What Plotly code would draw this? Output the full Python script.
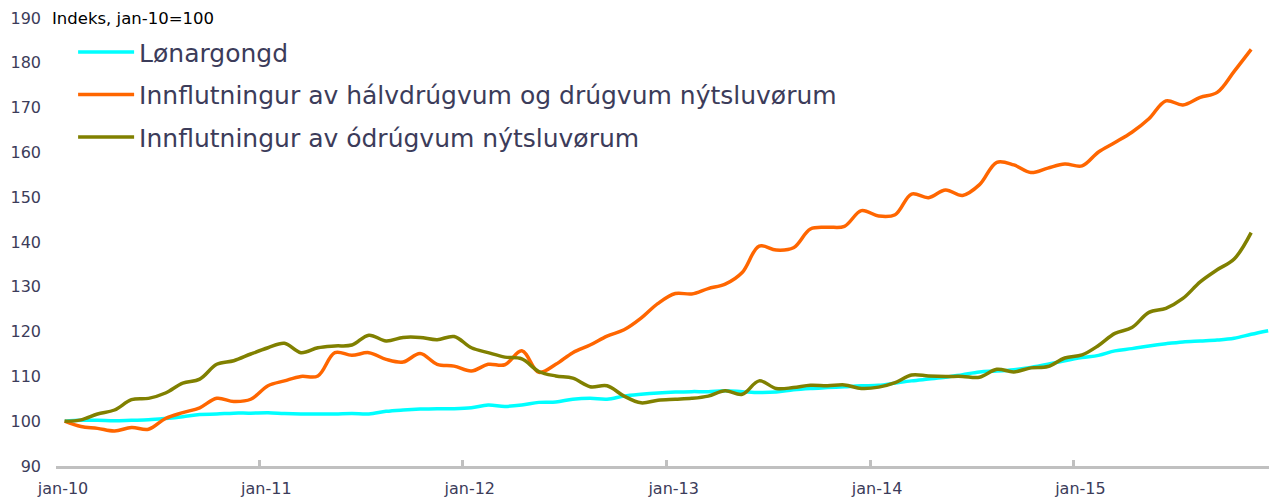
"""
Lønargongd og innflutningur, indeks jan-10=100
"""

import plotly.graph_objects as go
import pandas as pd

months = pd.date_range("2010-01-01", periods=72, freq="MS")

wages = [
    100.0, 100.2, 100.2, 100.1, 100.2, 100.3, 100.6, 101.0, 101.5, 101.6, 101.8, 101.8,
    101.9, 101.7, 101.6, 101.6, 101.6, 101.7, 101.6, 102.2, 102.5, 102.7, 102.8, 102.8,
    103.0, 103.6, 103.3, 103.6, 104.2, 104.3, 104.9, 105.1, 104.9, 105.6, 106.0, 106.3,
    106.5, 106.6, 106.6, 106.8, 106.6, 106.4, 106.5, 107.0, 107.3, 107.5, 107.7, 107.9,
    108.0, 108.5, 109.0, 109.4, 109.8, 110.4, 111.0, 111.2, 111.5, 112.0, 112.7, 113.5,
    114.2, 114.7, 115.7, 116.2, 116.8, 117.3, 117.7, 117.9, 118.1, 118.5, 119.4, 120.2,
]

durable = [
    100.0, 98.8, 98.4, 97.8, 98.6, 98.2, 100.6, 101.9, 103.0, 105.1, 104.4, 104.9,
    107.9, 109.0, 110.0, 110.1, 115.3, 114.7, 115.3, 113.8, 113.2, 115.1, 112.7, 112.3,
    111.2, 112.7, 112.6, 115.7, 110.9, 112.7, 115.3, 117.0, 119.0, 120.4, 123.0, 126.3,
    128.5, 128.4, 129.6, 130.6, 133.2, 139.1, 138.2, 138.7, 142.9, 143.3, 143.5, 147.0,
    145.8, 146.1, 150.7, 149.9, 151.6, 150.4, 152.8, 157.8, 157.2, 155.5, 156.5, 157.4,
    157.0, 160.1, 162.2, 164.5, 167.5, 171.5, 170.6, 172.3, 173.4, 178.1, 183.0,
]

nondurable = [
    100.0, 100.3, 101.6, 102.5, 104.8, 105.1, 106.3, 108.5, 109.4, 112.7, 113.5, 115.0,
    116.4, 117.4, 115.3, 116.4, 116.8, 117.0, 119.2, 117.9, 118.7, 118.7, 118.2, 118.9,
    116.4, 115.3, 114.3, 113.9, 111.1, 110.1, 109.6, 107.7, 107.9, 105.6, 104.1, 104.7,
    104.9, 105.1, 105.6, 106.8, 106.0, 109.0, 107.3, 107.5, 108.0, 107.9, 108.1, 107.3,
    107.6, 108.6, 110.3, 110.1, 110.0, 110.0, 109.8, 111.6, 111.0, 111.9, 112.2, 114.1,
    114.8, 116.9, 119.6, 120.9, 124.3, 125.2, 127.4, 131.1, 133.8, 136.2, 142.1,
]

tick_dates = ["2010-01-01", "2011-01-01", "2012-01-01",
              "2013-01-01", "2014-01-01", "2015-01-01"]
tick_labels = ["jan-10", "jan-11", "jan-12", "jan-13", "jan-14", "jan-15"]

y_ticks = list(range(90, 191, 10))

series = [
    ("Lønargongd", wages, "#00ffff"),
    ("Innflutningur av hálvdrúgvum og drúgvum nýtsluvørum", durable, "#ff6600"),
    ("Innflutningur av ódrúgvum nýtsluvørum", nondurable, "#808000"),
]

text_color = "#3c3c5a"

fig = go.Figure()

for name, values, color in series:
    fig.add_trace(go.Scatter(
        x=months[:len(values)],
        y=values,
        name=name,
        legendgroup=name,
        mode="lines",
        xperiod="M1",
        xperiodalignment="middle",
        line=dict(color=color, width=3.5, shape="spline", smoothing=1.0),
    ))

fig.update_layout(
    width=1269,
    height=498,
    margin=dict(l=56, r=0, t=18, b=32),
    paper_bgcolor="white",
    plot_bgcolor="white",
    font=dict(family="DejaVu Sans, Verdana, sans-serif", color=text_color),
    showlegend=True,
    legend=dict(
        x=0.0141,
        y=0.975,
        xanchor="left",
        yanchor="top",
        bgcolor="rgba(0,0,0,0)",
        font=dict(size=25, color=text_color),
        itemwidth=56,
        tracegroupgap=7,
    ),
    xaxis=dict(
        type="date",
        range=["2010-01-01", "2015-12-18"],
        tickvals=tick_dates,
        ticktext=tick_labels,
        showgrid=False,
        zeroline=False,
        showline=True,
        linecolor="#c0c0c0",
        linewidth=3,
        ticks="inside",
        ticklen=6,
        tickwidth=3,
        tickcolor="#c0c0c0",
        ticklabelshift=7,
        ticklabelstandoff=6,
        tickfont=dict(size=16, color=text_color),
    ),
    yaxis=dict(
        range=[90, 190],
        tickvals=y_ticks,
        showgrid=False,
        zeroline=False,
        showline=False,
        ticks="",
        ticklabelstandoff=14,
        tickfont=dict(size=16, color=text_color),
    ),
    annotations=[dict(
        text="Indeks, jan-10=100",
        xref="paper", yref="paper",
        x=0, y=1,
        xanchor="left", yanchor="middle",
        xshift=-6,
        showarrow=False,
        font=dict(size=16.5, color="black"),
    )],
)

# drop the default page margin so the chart sits at the window corner
fig.write_html(
    "out.html",
    config={"displayModeBar": False},
    post_script="document.body.style.margin='0';",
)
